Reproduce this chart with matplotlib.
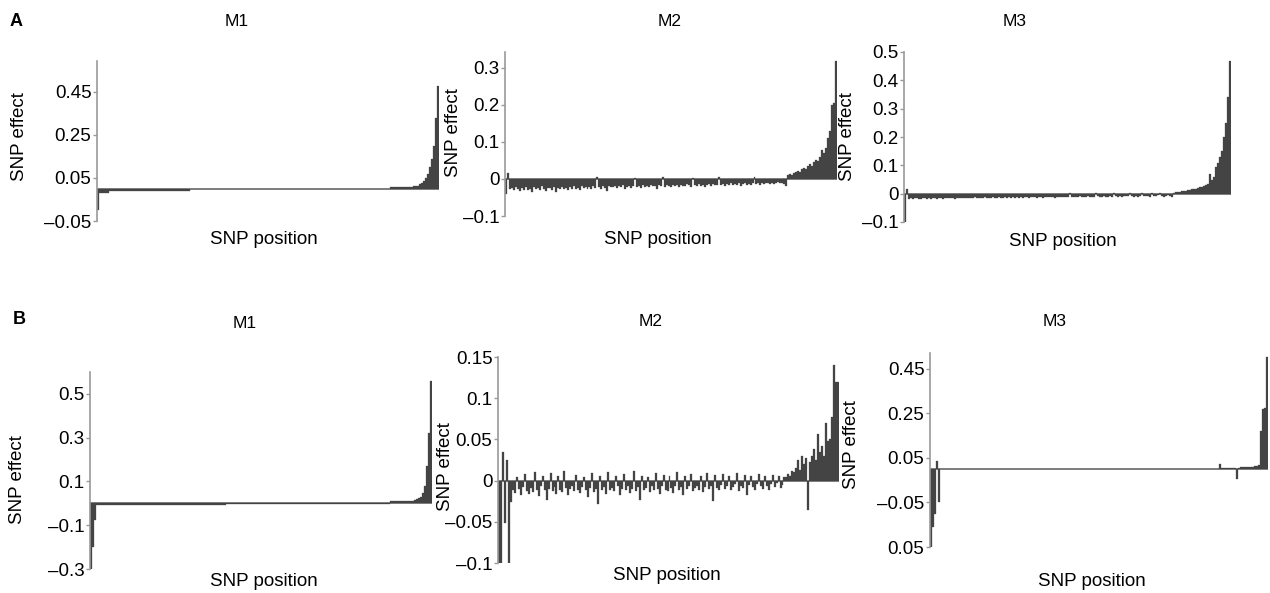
import matplotlib
matplotlib.use("Agg")
import matplotlib.pyplot as plt

plt.rcParams["font.family"] = ["Liberation Sans", "DejaVu Sans"]

W, H = 1270, 593

# ---- panel A, M1 (flat stretches written as repeated readings)
a_m1 = ([-0.100] + [-0.020] * 5 + [-0.010] * 40 + [-0.003] * 99 + [0.006] * 11
        + [0.015] * 3
        + [0.020, 0.025, 0.035, 0.050, 0.070, 0.100, 0.140, 0.200, 0.330, 0.480])

# ---- panel A, M2
a_m2 = [
    -0.040, 0.015,
    -0.028, -0.025, -0.030, -0.022, -0.027, -0.033, -0.024, -0.029, -0.021, -0.031,
    -0.026, -0.034, -0.023, -0.028, -0.025, -0.030, -0.020, -0.027, -0.032, -0.024,
    -0.025, -0.029, -0.022, -0.036, -0.024, -0.027, -0.021, -0.028, -0.025, -0.030,
    -0.022, -0.026, -0.019, -0.027, -0.024, -0.031, -0.020, -0.025, -0.023, -0.028,
    -0.021, -0.026, -0.019, -0.024, 0.004, -0.022, -0.027, -0.020, -0.024, -0.032,
    -0.019, -0.023, -0.021, -0.018, -0.025, -0.020, -0.023, -0.017, -0.028, -0.021,
    -0.019, -0.024, -0.018, 0.003, -0.022, -0.019, -0.025, -0.017, -0.021, -0.018,
    -0.023, -0.016, -0.020, -0.018, -0.026, -0.017, -0.019, 0.004, -0.021, -0.016,
    -0.018, -0.022, -0.015, -0.019, -0.017, -0.023, -0.015, -0.018, -0.020, -0.014,
    -0.017, -0.021, 0.003, -0.016, -0.019, -0.014, -0.018, -0.015, -0.022, -0.016,
    -0.014, -0.018, -0.013, -0.017, -0.015, 0.004, -0.016, -0.013, -0.019, -0.014,
    -0.015, -0.012, -0.017, -0.013, -0.016, -0.012, -0.018, -0.014, -0.011, -0.015,
    -0.013, -0.016, -0.011, 0.005, -0.014, -0.012, -0.015, -0.011, -0.013, -0.010,
    -0.012, -0.014, -0.010, -0.013, -0.011, -0.009, -0.012, -0.010, -0.014, -0.020,
    0.010, 0.013, 0.012, 0.016, 0.018, 0.022, 0.020, 0.026, 0.030, 0.027,
    0.034, 0.040, 0.036, 0.045, 0.052, 0.048, 0.060, 0.078, 0.070, 0.085,
    0.110, 0.130, 0.200, 0.205, 0.320,
]

# ---- panel A, M3
a_m3 = [
    -0.100, 0.018,
    -0.018, -0.016, -0.019, -0.017, -0.015, -0.018, -0.020, -0.016, -0.017, -0.019,
    -0.016, -0.018, -0.015, -0.017, -0.019, -0.016, -0.014, -0.018, -0.016, -0.017,
    -0.015, -0.017, -0.016, -0.020, -0.015, -0.016, -0.014, -0.017, -0.015, -0.016,
    -0.014, -0.016, -0.015, -0.013, -0.017, -0.015, -0.014, -0.016, -0.013, -0.015,
    -0.017, -0.014, -0.013, -0.015, -0.014, -0.012, -0.016, -0.014, -0.013, -0.015,
    -0.013, -0.014, -0.012, -0.015, -0.013, -0.017, -0.012, -0.014, -0.013, -0.012,
    -0.014, -0.012, -0.013, -0.011, -0.014, -0.012, -0.013, -0.015, -0.011, -0.012,
    -0.013, -0.011, -0.012, -0.014, -0.010, -0.012, -0.011, -0.013, -0.010, -0.012,
    -0.011, 0.003, -0.012, -0.010, -0.013, -0.011, -0.009, -0.012, -0.010, -0.011,
    -0.009, -0.012, -0.010, -0.011, 0.002, -0.009, -0.013, -0.010, -0.008, -0.011,
    -0.010, -0.008, -0.012, 0.003, -0.009, -0.010, -0.008, -0.011, -0.009, -0.007,
    -0.009, 0.004, -0.008, -0.010, -0.007, -0.011, -0.008, 0.003, -0.009, -0.007,
    -0.008, -0.010, 0.003, -0.007, -0.009, -0.006, 0.004, -0.008, -0.010, -0.007,
    -0.006, -0.009, -0.012,
    0.004, 0.005, 0.006, 0.006, 0.008, 0.009, 0.010, 0.012, 0.013, 0.015,
    0.016, 0.018, 0.020, 0.022, 0.025, 0.028, 0.030, 0.035, 0.070, 0.050,
    0.060, 0.095, 0.110, 0.130, 0.150, 0.200, 0.250, 0.340, 0.470,
]

# ---- panel B, M1
b_m1 = ([-0.300, -0.200, -0.075] + [-0.008] * 65 + [-0.002] * 82 + [0.010] * 12
        + [0.015, 0.020, 0.025, 0.030, 0.045, 0.080, 0.170, 0.320, 0.560])

# ---- panel B, M2
b_m2 = [
    -0.100, -0.100, 0.035, -0.052, 0.025, -0.100, -0.026,
    -0.012, -0.015, 0.004, -0.010, -0.018, -0.008, 0.008, -0.013, -0.016, -0.009,
    -0.014, 0.010, -0.011, -0.019, -0.007, 0.006, -0.012, -0.024, -0.010, 0.009,
    -0.013, -0.008, -0.016, 0.005, -0.011, -0.014, 0.012, -0.009, -0.017, -0.010,
    -0.006, -0.013, 0.007, -0.011, -0.015, -0.008, 0.004, -0.012, -0.020, -0.009,
    0.009, -0.014, -0.010, -0.028, 0.006, -0.011, -0.008, -0.016, 0.011, -0.012,
    -0.009, -0.013, 0.005, -0.007, -0.017, -0.010, 0.008, -0.012, -0.006, -0.015,
    -0.010, 0.012, -0.013, -0.008, -0.024, 0.006, -0.011, -0.009, 0.004, -0.014,
    -0.007, -0.012, 0.009, -0.010, -0.016, -0.006, 0.007, -0.011, -0.013, 0.005,
    -0.009, -0.015, -0.006, 0.010, -0.012, -0.008, -0.018, 0.006, -0.010, -0.007,
    0.008, -0.013, -0.009, -0.006, -0.011, 0.005, -0.014, -0.008, 0.009, -0.010,
    -0.006, -0.025, 0.007, -0.009, -0.012, -0.005, 0.008, -0.010, -0.007, 0.006,
    -0.011, -0.008, -0.004, 0.009, -0.013, -0.006, -0.009, 0.007, -0.018, -0.005,
    0.006, -0.008, -0.011, -0.004, 0.008, -0.007, -0.010, 0.005, -0.006, -0.012,
    -0.004, 0.007, -0.008, -0.003, 0.006, -0.009, -0.005, 0.004,
    0.004, 0.008, 0.006, 0.012, 0.010, 0.015, 0.025, 0.013, 0.030, 0.020,
    0.028, -0.036, 0.022, 0.030, 0.038, 0.025, 0.057, 0.035, 0.042, 0.030,
    0.070, 0.048, 0.050, 0.077, 0.140, 0.120, 0.120,
]

# ---- panel B, M3
b_m3 = ([-0.360, -0.260, -0.200, 0.035, -0.150] + [0.002] * 141 + [0.024]
        + [0.003] * 8 + [-0.045]
        + [0.006, 0.007, 0.008, 0.007, 0.009, 0.010, 0.009, 0.011, 0.012, 0.014, 0.018]
        + [0.170, 0.270, 0.275, 0.500])

# y ticks: positions and the labels printed in the original figure
a_m1_ticks = [-0.15, 0.05, 0.25, 0.45]
a_m1_labels = ["\u20130.05", "0.05", "0.25", "0.45"]
a_m2_ticks = [-0.1, 0.0, 0.1, 0.2, 0.3]
a_m2_labels = ["\u20130.1", "0", "0.1", "0.2", "0.3"]
a_m3_ticks = [-0.1, 0.0, 0.1, 0.2, 0.3, 0.4, 0.5]
a_m3_labels = ["\u20130.1", "0", "0.1", "0.2", "0.3", "0.4", "0.5"]
b_m1_ticks = [-0.3, -0.1, 0.1, 0.3, 0.5]
b_m1_labels = ["\u20130.3", "\u20130.1", "0.1", "0.3", "0.5"]
b_m2_ticks = [-0.1, -0.05, 0.0, 0.05, 0.1, 0.15]
b_m2_labels = ["\u20130.1", "\u20130.05", "0", "0.05", "0.1", "0.15"]
b_m3_ticks = [-0.35, -0.15, 0.05, 0.25, 0.45]
b_m3_labels = ["0.05", "\u20130.05", "0.05", "0.25", "0.45"]

BAR = "#444444"
SPINE = "#9a9a9a"
FS = 13.5

fig = plt.figure(figsize=(W / 100, H / 100), dpi=100)


def px_axes(x0, x1, y0, y1):
    return fig.add_axes([x0 / W, 1 - y1 / H, (x1 - x0) / W, (y1 - y0) / H])


def fig_text(x, y, s, **kw):
    fig.text(x / W, 1 - y / H, s, ha="center", va="center", **kw)


panels = [
    # values, box (x0, x1, ytop, ybottom), ylim, ticks, labels, ylabel pos, xlabel pos
    (a_m1, (97, 439, 61, 221), (-0.15, 0.594), a_m1_ticks, a_m1_labels, (20, 137), (264, 240)),
    (a_m2, (505, 837, 52, 216), (-0.1, 0.343), a_m2_ticks, a_m2_labels, (453, 133), (658, 240)),
    (a_m3, (904, 1231, 52, 222), (-0.1, 0.5), a_m3_ticks, a_m3_labels, (848, 137), (1063, 241)),
    (b_m1, (90, 432, 372, 569), (-0.3, 0.6), b_m1_ticks, b_m1_labels, (18, 480), (264, 582)),
    (b_m2, (498, 839, 357, 563), (-0.1, 0.15), b_m2_ticks, b_m2_labels, (445, 467), (667, 575)),
    (b_m3, (930, 1268, 353, 547), (-0.35, 0.52), b_m3_ticks, b_m3_labels, (852, 445), (1092, 582)),
]

for vals, box, ylim, ticks, labels, ylab, xlab in panels:
    ax = px_axes(*box)
    ax.axhline(0, color="#666666", linewidth=1.1, zorder=1)
    ax.bar(range(len(vals)), vals, width=1.0, align="edge", color=BAR,
           edgecolor=BAR, linewidth=0.2, zorder=2)
    ax.set_xlim(0, len(vals))
    ax.set_ylim(*ylim)
    ax.set_yticks(ticks)
    ax.set_yticklabels(labels, fontsize=FS)
    ax.set_xticks([])
    for side in ("top", "right", "bottom"):
        ax.spines[side].set_visible(False)
    ax.spines["left"].set_color(SPINE)
    ax.spines["left"].set_linewidth(1.2)
    ax.tick_params(axis="y", length=3, width=1, color=SPINE, pad=1)
    ax.patch.set_visible(False)
    fig_text(*ylab, "SNP effect", fontsize=FS, rotation=90)
    fig_text(*xlab, "SNP position", fontsize=FS)

# column titles and row letters
fig_text(237, 22, "M1", fontsize=12.5)
fig_text(670, 22, "M2", fontsize=12.5)
fig_text(1015, 22, "M3", fontsize=12.5)
fig_text(245, 323, "M1", fontsize=12.5)
fig_text(651, 322, "M2", fontsize=12.5)
fig_text(1055, 322, "M3", fontsize=12.5)
fig_text(16, 22, "A", fontsize=13, fontweight="bold")
fig_text(19, 320, "B", fontsize=13, fontweight="bold")

fig.savefig("out.png", dpi=100)
plt.close(fig)
